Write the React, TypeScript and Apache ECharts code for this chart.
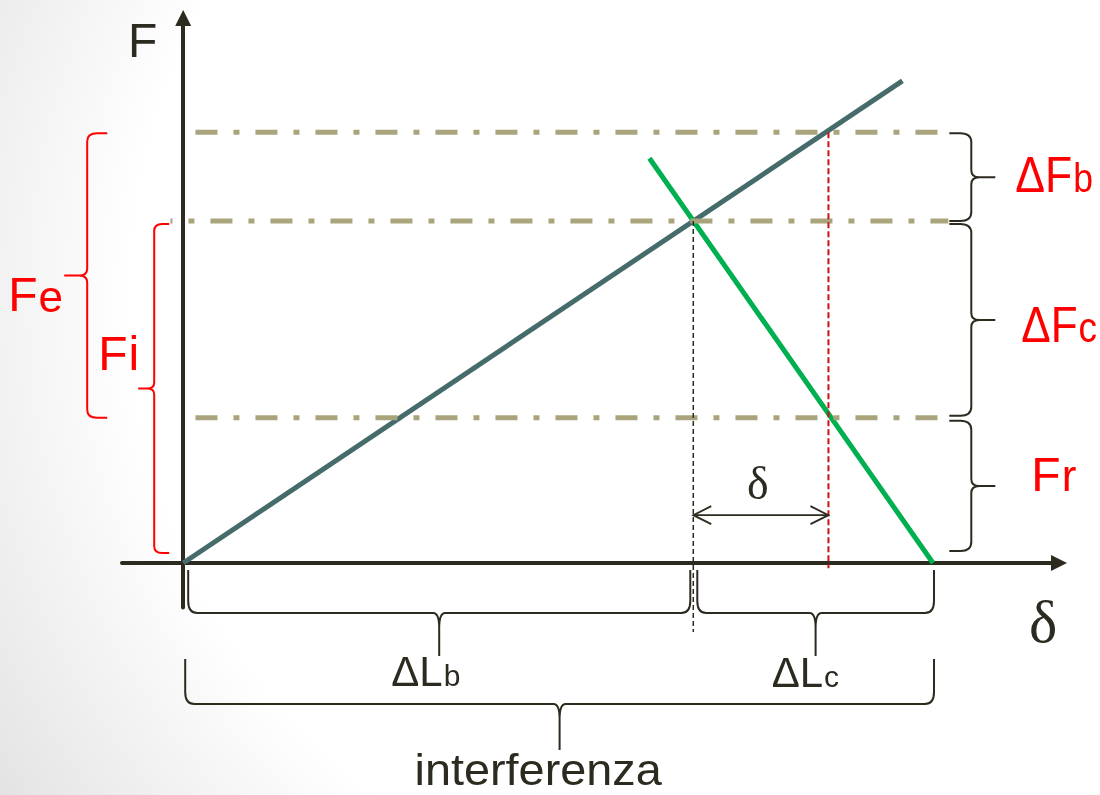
import React, { useEffect, useRef } from 'react';
import * as echarts from 'echarts';

// ---------------- data ----------------
const forceNames = ['Fr', 'Fi', 'Fe'];
const forceValues = [4.25, 10, 12.6];
const lengthNames = ['ΔLb', 'ΔLc', 'δ'];
const lengthValues = [10, 4.7, 2.65];
const boltLine = [[0, 0], [14.1, 14.1]];
const memberLine = [[9.14, 11.84], [14.7, 0]];
const guideFrom = [0.24, -0.25, 0.24];
const guideTo = [15, 15, 15];

const [Fr, Fi, Fe] = forceValues;
const [Lb, Lc, dl] = lengthValues;

const braceLabels = ['ΔFb', 'ΔFc', 'Fr', 'Fe', 'Fi', 'ΔLb', 'ΔLc', 'interferenza'];
const braceRanges = [
  [Fi, Fe],
  [Fr, Fi],
  [0, Fr],
  [Fr, Fe],
  [0, Fi],
  [0, Lb],
  [Lb, Lb + Lc],
  [0, Lb + Lc],
];

// ---------------- styles ----------------
const DARK = '#2d2a20';
const RED = '#ff0000';
const SANS = '"Liberation Sans", Arial, sans-serif';
const SERIF = '"Liberation Serif", "Times New Roman", serif';
const ARROW_Y = 1.4;

type BraceStyle = {
  dir: 'right' | 'left' | 'down';
  ref: number;
  base: number;
  s: number;
  tip: number;
  inset: [number, number];
  color: string;
  eR: [number, number];
  tR: [number, number];
  sub: boolean;
  size: [number, number];
  sx: number;
  tc: string;
  lx: number;
  ly: number;
};

const braceStyles: BraceStyle[] = [
  { dir: 'right', ref: 15, base: 1, s: 22, tip: 46, inset: [1, 0], color: DARK, eR: [9, 11], tR: [7, 8], sub: true, size: [50, 40], sx: 0.89, tc: RED, lx: 20, ly: 15 },
  { dir: 'right', ref: 15, base: 1, s: 22, tip: 46, inset: [3, 2], color: DARK, eR: [9, 11], tR: [7, 8], sub: true, size: [50, 42], sx: 0.88, tc: RED, lx: 26, ly: 22 },
  { dir: 'right', ref: 15, base: 1, s: 22, tip: 46, inset: [3, 12], color: DARK, eR: [9, 11], tR: [7, 8], sub: true, size: [48, 44], sx: 1, tc: RED, lx: 36, ly: 5 },
  { dir: 'left', ref: 0, base: -76, s: 20, tip: 43, inset: [1, 0], color: RED, eR: [8, 10], tR: [7, 8], sub: true, size: [48, 44], sx: 1, tc: RED, lx: -56, ly: 36 },
  { dir: 'left', ref: 0, base: -14, s: 15, tip: 31, inset: [3, 10], color: RED, eR: [7, 8], tR: [6, 7], sub: true, size: [48, 48], sx: 1, tc: RED, lx: -40, ly: -18 },
  { dir: 'down', ref: 0, base: 7, s: 43, tip: 86, inset: [5, 3], color: DARK, eR: [9, 12], tR: [6, 15], sub: true, size: [42, 30], sx: 1, tc: DARK, lx: -48, ly: 30 },
  { dir: 'down', ref: 0, base: 7, s: 43, tip: 86, inset: [4, -1], color: DARK, eR: [9, 12], tR: [6, 15], sub: true, size: [42, 30], sx: 1, tc: DARK, lx: -44, ly: 31 },
  { dir: 'down', ref: 0, base: 96, s: 45, tip: 91, inset: [2, -1], color: DARK, eR: [9, 12], tR: [6, 15], sub: false, size: [45, 45], sx: 1.04, tc: DARK, lx: -145, ly: 35 },
];

let measureCtx: CanvasRenderingContext2D | null = null;
function textWidth(text: string, font: string): number {
  if (!measureCtx) {
    const c = document.createElement('canvas');
    measureCtx = c.getContext('2d');
  }
  if (!measureCtx) return text.length * 20;
  measureCtx.font = font;
  return measureCtx.measureText(text).width;
}

function fmt(q: number[]) {
  return q[0].toFixed(1) + ' ' + q[1].toFixed(1);
}

function textEl(text: string, x: number, y: number, font: string, fill: string, sx: number) {
  return {
    type: 'text',
    x,
    y,
    scaleX: sx,
    originX: 0,
    originY: 0,
    style: { text, x: 0, y: 0, font, fill, align: 'left', verticalAlign: 'middle' },
  };
}

function buildOption(): any {
  const guideSeries = forceValues.map((f, i) => ({
    type: 'line',
    name: forceNames[i] + ' level',
    data: [[guideFrom[i], f], [guideTo[i], f]],
    symbol: 'none',
    silent: true,
    z: i === 2 ? 1 : 3,
    lineStyle: {
      color: '#a9a47c',
      width: 5,
      type: [22, 16, 6, 16],
      dashOffset: i === 1 ? 20 : 0,
      cap: 'butt',
    },
  }));

  return {
    animation: false,
    backgroundColor: 'transparent',
    grid: { left: 122, right: 41, top: 18, bottom: 187.5, containLabel: false },
    xAxis: {
      type: 'value',
      min: -1.2,
      max: 17.17,
      axisLine: { onZero: true, symbol: ['none', 'triangle'], symbolSize: [16, 16], lineStyle: { color: DARK, width: 4 } },
      axisTick: { show: false },
      axisLabel: { show: false },
      splitLine: { show: false },
    },
    yAxis: {
      type: 'value',
      min: -1.3,
      max: 15.94,
      axisLine: { onZero: true, symbol: ['none', 'triangle'], symbolSize: [16, 16], lineStyle: { color: DARK, width: 4 } },
      axisTick: { show: false },
      axisLabel: { show: false },
      splitLine: { show: false },
    },
    graphic: [
      { type: 'text', x: 128, y: 57 - 0.347 * 48, silent: true, style: { text: 'F', font: '48px ' + SANS, fill: DARK, align: 'left', verticalAlign: 'middle' } },
      { type: 'text', x: 1029, y: 642 - 0.34 * 60, silent: true, style: { text: 'δ', font: '60px ' + SERIF, fill: DARK, align: 'left', verticalAlign: 'middle' } },
    ],
    series: [
      {
        type: 'line',
        name: 'bolt',
        data: boltLine,
        symbol: 'none',
        silent: true,
        z: 2,
        lineStyle: { color: '#466b6b', width: 5, cap: 'butt' },
      },
      {
        type: 'line',
        name: 'members',
        data: memberLine,
        symbol: 'none',
        silent: true,
        z: 2,
        lineStyle: { color: '#00b050', width: 5, cap: 'butt' },
      },
      ...guideSeries,
      {
        type: 'line',
        name: 'Fe position',
        data: [[Lb + dl, Fe], [Lb + dl, -0.15]],
        symbol: 'none',
        silent: true,
        clip: false,
        z: 5,
        lineStyle: { color: '#cc1111', width: 2, type: [6, 3] },
      },
      {
        type: 'line',
        name: 'Fi position',
        data: [[Lb, Fi], [Lb, -2.02]],
        symbol: 'none',
        silent: true,
        clip: false,
        z: 5,
        lineStyle: { color: DARK, width: 1.5, type: [5, 3] },
      },
      {
        type: 'custom',
        name: lengthNames[2],
        coordinateSystem: 'cartesian2d',
        silent: true,
        z: 6,
        data: [[Lb, Lb + dl]],
        renderItem: (params: any, api: any) => {
          const p1 = api.coord([api.value(0), ARROW_Y]);
          const p2 = api.coord([api.value(1), ARROW_Y]);
          const hl = 18;
          const hw = 9;
          const st = { stroke: DARK, lineWidth: 1.8, fill: 'none' };
          const midX = (p1[0] + p2[0]) / 2;
          return {
            type: 'group',
            children: [
              { type: 'line', shape: { x1: p1[0], y1: p1[1], x2: p2[0], y2: p2[1] }, style: st },
              { type: 'polyline', shape: { points: [[p1[0] + hl, p1[1] - hw], [p1[0], p1[1]], [p1[0] + hl, p1[1] + hw]] }, style: st },
              { type: 'polyline', shape: { points: [[p2[0] - hl, p2[1] - hw], [p2[0], p2[1]], [p2[0] - hl, p2[1] + hw]] }, style: st },
              {
                type: 'text',
                style: {
                  text: lengthNames[2],
                  x: midX - 3,
                  y: p1[1] - 16 - 0.34 * 46,
                  font: '46px ' + SERIF,
                  fill: DARK,
                  align: 'center',
                  verticalAlign: 'middle',
                },
              },
            ],
          };
        },
      },
      {
        type: 'custom',
        name: 'braces',
        coordinateSystem: 'cartesian2d',
        silent: true,
        z: 6,
        data: braceRanges,
        renderItem: (params: any, api: any) => {
          const i = params.dataIndex;
          const st = braceStyles[i];
          const from = api.value(0);
          const to = api.value(1);
          let a: number[];
          let b: number[];
          let n: number[];
          if (st.dir === 'right' || st.dir === 'left') {
            const px = api.coord([st.ref, 0])[0] + st.base;
            a = [px, api.coord([st.ref, to])[1] + st.inset[0]];
            b = [px, api.coord([st.ref, from])[1] - st.inset[1]];
            n = st.dir === 'right' ? [1, 0] : [-1, 0];
          } else {
            const py = api.coord([0, 0])[1] + st.base;
            a = [api.coord([from, 0])[0] + st.inset[0], py];
            b = [api.coord([to, 0])[0] - st.inset[1], py];
            n = [0, 1];
          }
          const L = Math.hypot(b[0] - a[0], b[1] - a[1]);
          const u = [(b[0] - a[0]) / L, (b[1] - a[1]) / L];
          const p = (t: number, d: number) => [a[0] + u[0] * t + n[0] * d, a[1] + u[1] * t + n[1] * d];
          const m = L / 2;
          const s = st.s;
          const [eT, eN] = st.eR;
          const [tT, tN] = st.tR;
          const d =
            `M${fmt(p(0, 0))} L${fmt(p(0, s - eN))} Q${fmt(p(0, s))} ${fmt(p(eT, s))} ` +
            `L${fmt(p(m - tT, s))} Q${fmt(p(m, s))} ${fmt(p(m, s + tN))} L${fmt(p(m, st.tip))} ` +
            `M${fmt(p(m, st.tip))} L${fmt(p(m, s + tN))} Q${fmt(p(m, s))} ${fmt(p(m + tT, s))} ` +
            `L${fmt(p(L - eT, s))} Q${fmt(p(L, s))} ${fmt(p(L, s - eN))} L${fmt(p(L, 0))}`;

          const tipPt = p(m, st.tip);
          const left = tipPt[0] + st.lx;
          const base = tipPt[1] + st.ly;
          const label = braceLabels[i];
          const mainTxt = st.sub ? label.slice(0, -1) : label;
          const subTxt = st.sub ? label.slice(-1) : '';
          const mainFont = st.size[0] + 'px ' + SANS;
          const subFont = st.size[1] + 'px ' + SANS;
          const children: any[] = [
            { type: 'path', shape: { pathData: d }, style: { stroke: st.color, lineWidth: 2, fill: 'none', lineJoin: 'round' } },
            textEl(mainTxt, left, base - 0.347 * st.size[0], mainFont, st.tc, st.sx),
          ];
          if (subTxt) {
            const w = textWidth(mainTxt, mainFont) * st.sx;
            children.push(textEl(subTxt, left + w + 1, base - 0.347 * st.size[1], subFont, st.tc, st.sx));
          }
          return { type: 'group', children };
        },
      },
    ],
  };
}

export default function App() {
  const ref = useRef<HTMLDivElement>(null);
  useEffect(() => {
    if (!ref.current) return;
    const chart = echarts.init(ref.current, null, { renderer: 'svg' });
    chart.setOption(buildOption());
    return () => {
      chart.dispose();
    };
  }, []);
  return (
    <div
      ref={ref}
      style={{
        position: 'fixed',
        left: 0,
        top: 0,
        width: 1100,
        height: 795,
        background: 'radial-gradient(circle at 750px 300px, #ffffff 0px, #ffffff 620px, #d9d9d9 1000px)',
      }}
    />
  );
}
